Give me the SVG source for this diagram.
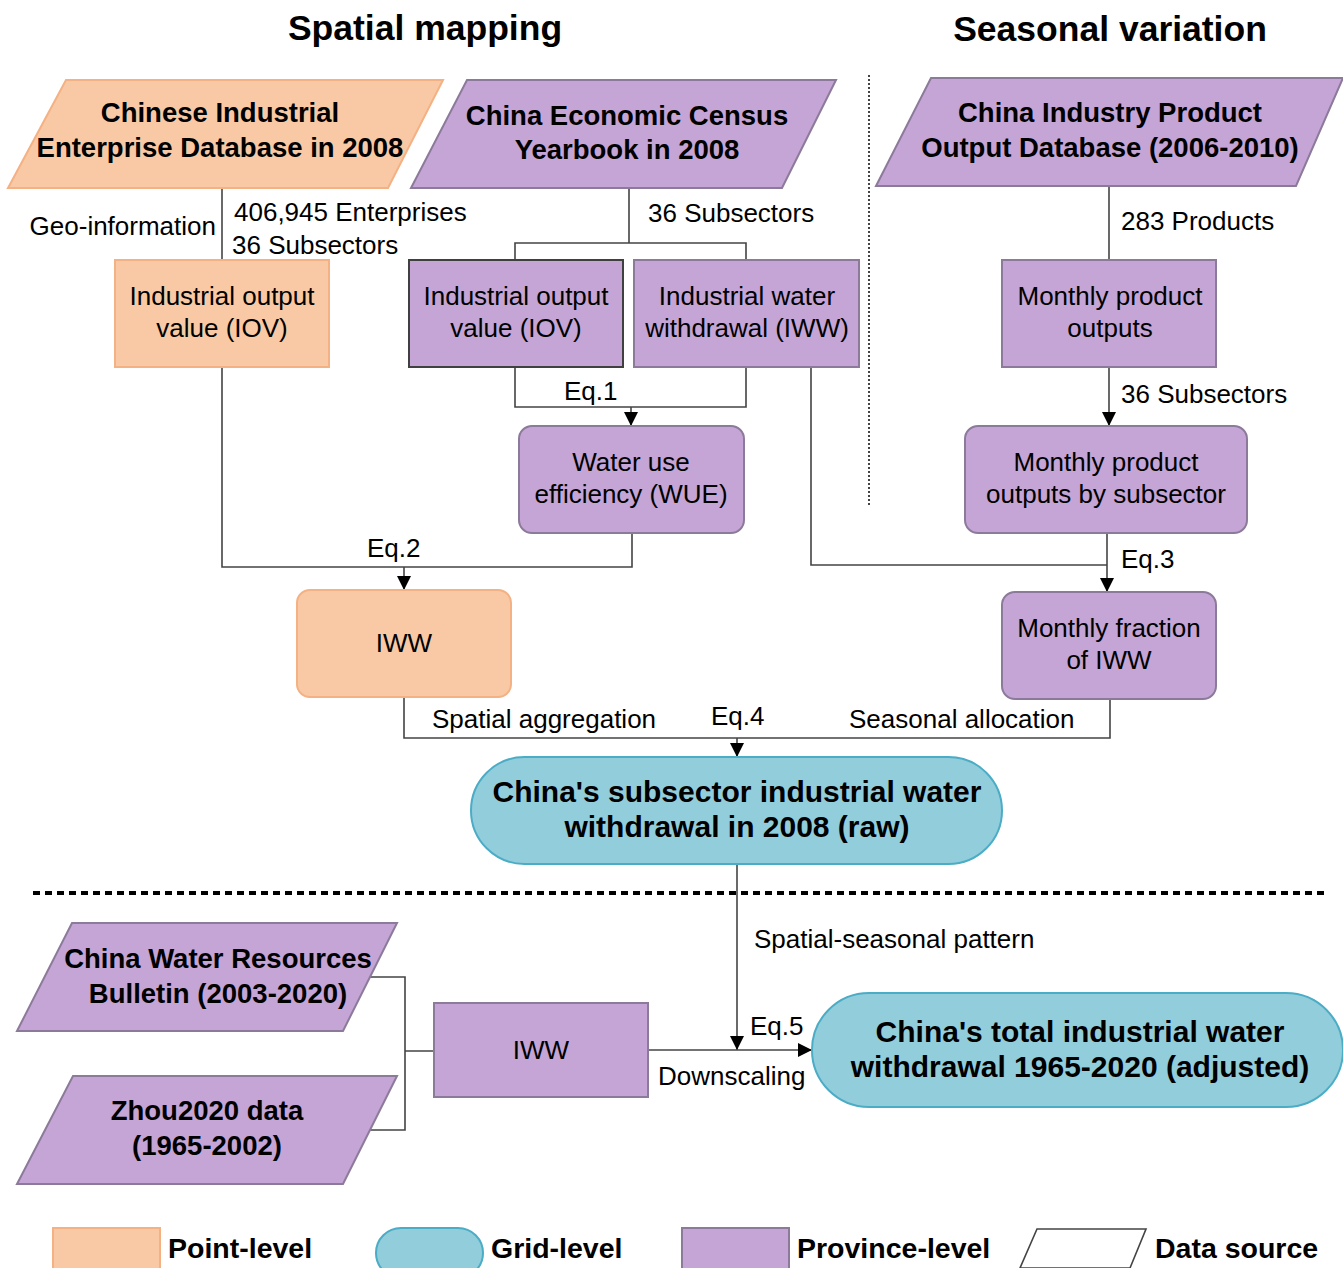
<svg xmlns="http://www.w3.org/2000/svg" width="1343" height="1268" viewBox="0 0 1343 1268">
<style>
text{font-family:"Liberation Sans",Arial,sans-serif;fill:#000}
.t{font-size:35.5px;font-weight:bold;text-anchor:middle}
.b{font-size:27.5px;font-weight:bold;text-anchor:middle}
.g{font-size:30px;font-weight:bold;text-anchor:middle}
.n{font-size:26px;text-anchor:middle}
.l{font-size:26px}
.lg{font-size:28.5px;font-weight:bold}
.or{fill:#F8C9A4;stroke:#F4B183;stroke-width:2}
.pu{fill:#C4A5D5;stroke:#8C7A9A;stroke-width:2}
.pd{fill:#C4A5D5;stroke:#404040;stroke-width:2}
.bl{fill:#92CDDC;stroke:#4BACC6;stroke-width:2}
.c{fill:none;stroke:#444;stroke-width:1.6}
</style>
<defs>
<marker id="ah" viewBox="0 0 10 10" refX="10" refY="5" markerWidth="15" markerHeight="14" markerUnits="userSpaceOnUse" orient="auto">
<path d="M0,0 L10,5 L0,10 z" fill="#000"/>
</marker>
</defs>
<text class="t" x="425" y="40">Spatial mapping</text>
<text class="t" x="1110" y="41">Seasonal variation</text>
<line x1="869" y1="75" x2="869" y2="505" stroke="#444" stroke-width="2" stroke-dasharray="2,2"/>
<line x1="33" y1="893" x2="1327" y2="893" stroke="#000" stroke-width="4" stroke-dasharray="7,5"/>
<g id="connectors">
<path class="c" d="M222,188 V260"/>
<path class="c" d="M629,188 V243 M515,260 V243 H746 V260"/>
<path class="c" d="M515,367 V407 H746 V367"/>
<path class="c" d="M631,407 V426" marker-end="url(#ah)"/>
<path class="c" d="M222,367 V567 H632 V533"/>
<path class="c" d="M404,567 V590" marker-end="url(#ah)"/>
<path class="c" d="M1109,186 V260"/>
<path class="c" d="M1109,367 V426" marker-end="url(#ah)"/>
<path class="c" d="M811,367 V565 H1107"/>
<path class="c" d="M1107,533 V592" marker-end="url(#ah)"/>
<path class="c" d="M404,697 V738 H1110 V699"/>
<path class="c" d="M737,738 V757" marker-end="url(#ah)"/>
<path class="c" d="M737,864 V1050" marker-end="url(#ah)"/>
<path class="c" d="M370,977 H405 V1130 H370 M405,1051 H434"/>
<path class="c" d="M648,1050 H812" marker-end="url(#ah)"/>
</g>
<g id="labels">
<text class="l" x="216" y="235" text-anchor="end">Geo-information</text>
<text class="l" x="234" y="221">406,945 Enterprises</text>
<text class="l" x="232" y="254">36 Subsectors</text>
<text class="l" x="648" y="222">36 Subsectors</text>
<text class="l" x="564" y="400">Eq.1</text>
<text class="l" x="367" y="557">Eq.2</text>
<text class="l" x="1121" y="230">283 Products</text>
<text class="l" x="1121" y="403">36 Subsectors</text>
<text class="l" x="1121" y="568">Eq.3</text>
<text class="l" x="432" y="728">Spatial aggregation</text>
<text class="l" x="711" y="725">Eq.4</text>
<text class="l" x="849" y="728">Seasonal allocation</text>
<text class="l" x="754" y="948">Spatial-seasonal pattern</text>
<text class="l" x="750" y="1035">Eq.5</text>
<text class="l" x="658" y="1085">Downscaling</text>
</g>
<g id="cied">
<polygon class="or" points="66,80 443,80 388,188 8,188"/>
<text class="b" x="220" y="122">Chinese Industrial</text>
<text class="b" x="220" y="157">Enterprise Database in 2008</text>
</g>
<g id="cecy">
<polygon class="pu" points="467,80 836,80 782,188 411,188"/>
<text class="b" x="627" y="125">China Economic Census</text>
<text class="b" x="627" y="159">Yearbook in 2008</text>
</g>
<g id="cipo">
<polygon class="pu" points="931,78 1343,78 1296,186 876,186"/>
<text class="b" x="1110" y="122">China Industry Product</text>
<text class="b" x="1110" y="157">Output Database (2006-2010)</text>
</g>
<g id="iov-point">
<rect class="or" x="115" y="260" width="214" height="107"/>
<text class="n" x="222" y="305">Industrial output</text>
<text class="n" x="222" y="337">value (IOV)</text>
</g>
<g id="iov-prov">
<rect class="pd" x="409" y="260" width="214" height="107"/>
<text class="n" x="516" y="305">Industrial output</text>
<text class="n" x="516" y="337">value (IOV)</text>
</g>
<g id="iww-prov">
<rect class="pu" x="634" y="260" width="225" height="107"/>
<text class="n" x="747" y="305">Industrial water</text>
<text class="n" x="747" y="337">withdrawal (IWW)</text>
</g>
<g id="wue">
<rect class="pu" x="519" y="426" width="225" height="107" rx="13"/>
<text class="n" x="631" y="471">Water use</text>
<text class="n" x="631" y="503">efficiency (WUE)</text>
</g>
<g id="mpo">
<rect class="pu" x="1002" y="260" width="214" height="107"/>
<text class="n" x="1110" y="305">Monthly product</text>
<text class="n" x="1110" y="337">outputs</text>
</g>
<g id="mpos">
<rect class="pu" x="965" y="426" width="282" height="107" rx="13"/>
<text class="n" x="1106" y="471">Monthly product</text>
<text class="n" x="1106" y="503">outputs by subsector</text>
</g>
<g id="iww-point">
<rect class="or" x="297" y="590" width="214" height="107" rx="13"/>
<text class="n" x="404" y="652">IWW</text>
</g>
<g id="mfrac">
<rect class="pu" x="1002" y="592" width="214" height="107" rx="13"/>
<text class="n" x="1109" y="637">Monthly fraction</text>
<text class="n" x="1109" y="669">of IWW</text>
</g>
<g id="raw">
<rect class="bl" x="471" y="757" width="531" height="107" rx="53.5"/>
<text class="g" x="737" y="802">China's subsector industrial water</text>
<text class="g" x="737" y="837">withdrawal in 2008 (raw)</text>
</g>
<g id="cwrb">
<polygon class="pu" points="72,923 397,923 343,1031 17,1031"/>
<text class="b" x="218" y="968">China Water Resources</text>
<text class="b" x="218" y="1003">Bulletin (2003-2020)</text>
</g>
<g id="zhou">
<polygon class="pu" points="73,1076 397,1076 343,1184 17,1184"/>
<text class="b" x="207" y="1120">Zhou2020 data</text>
<text class="b" x="207" y="1155">(1965-2002)</text>
</g>
<g id="iww-bottom">
<rect class="pu" x="434" y="1003" width="214" height="94"/>
<text class="n" x="541" y="1059">IWW</text>
</g>
<g id="adjusted">
<rect class="bl" x="812" y="993" width="531" height="114" rx="57"/>
<text class="g" x="1080" y="1042">China's total industrial water</text>
<text class="g" x="1080" y="1077">withdrawal 1965-2020 (adjusted)</text>
</g>
<g id="legend">
<rect class="or" x="53" y="1228" width="107" height="45"/>
<text class="lg" x="168" y="1258">Point-level</text>
<rect class="bl" x="376" y="1228" width="107" height="50" rx="25"/>
<text class="lg" x="491" y="1258">Grid-level</text>
<rect class="pu" x="682" y="1228" width="107" height="45"/>
<text class="lg" x="797" y="1258">Province-level</text>
<polygon points="1037,1229 1146,1229 1130,1268 1020,1268" fill="#fff" stroke="#444" stroke-width="1.6"/>
<text class="lg" x="1155" y="1258">Data source</text>
</g>
</svg>
